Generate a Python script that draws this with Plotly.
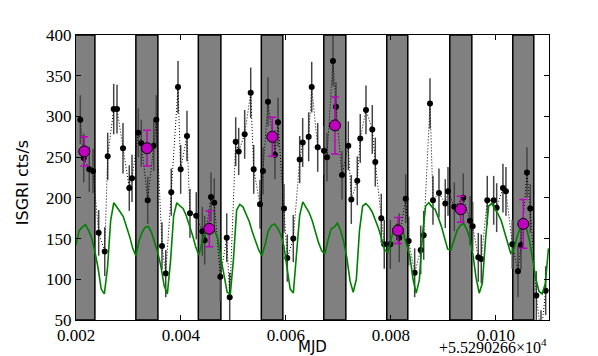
import numpy as np
import plotly.graph_objects as go

# Offset on the time axis: MJD = 55290.266 + t
offset_text = "+5.5290266×10<sup>4</sup>"

# Shaded (eclipse) intervals, t in days
band_start = [0.00195, 0.00314, 0.00433, 0.00553, 0.00672, 0.00792, 0.00912, 0.01032]
band_end = [0.00236, 0.00356, 0.00476, 0.00594, 0.00714, 0.00832, 0.00954, 0.01072]

# ISGRI light curve (black points)
t_lc = [0.002082, 0.002147, 0.002253, 0.002324, 0.002432, 0.002547, 0.002604, 0.002718,
        0.002781, 0.002895, 0.003015, 0.003067, 0.003187, 0.003244, 0.003366, 0.003480,
        0.003530, 0.003638, 0.003709, 0.003815, 0.003943, 0.003994, 0.004114, 0.004171,
        0.004291, 0.004406, 0.004451, 0.004571, 0.004634, 0.004749, 0.004871, 0.004928,
        0.005042, 0.005099, 0.005213, 0.005328, 0.005385, 0.005505, 0.005562, 0.005657,
        0.005790, 0.005848, 0.005962, 0.006025, 0.006139, 0.006261, 0.006318, 0.006432,
        0.006490, 0.006604, 0.006724, 0.006781, 0.006895, 0.006952, 0.007067, 0.007187,
        0.007244, 0.007358, 0.007415, 0.007524, 0.007644, 0.007701, 0.007815, 0.007872,
        0.007987, 0.008158, 0.008280, 0.008337, 0.008451, 0.008566, 0.008623, 0.008743,
        0.008800, 0.008914, 0.009034, 0.009086, 0.009206, 0.009377, 0.009505, 0.009556,
        0.009663, 0.009720, 0.009834, 0.009956, 0.010013, 0.010133, 0.010190, 0.010310,
        0.010419, 0.010476, 0.010590, 0.010653, 0.010768, 0.010857, 0.010947]
rate_lc = [296, 249, 235, 233, 157, 134, 251, 309,
           309, 261, 212, 224, 280, 267, 197, 264,
           296, 141, 107, 207, 336, 235, 276, 181,
           178, 159, 148, 201, 194, 103, 151, 78,
           269, 257, 278, 329, 235, 192, 233, 318,
           253, 293, 187, 126, 150, 247, 268, 275,
           336, 262, 258, 250, 368, 312, 228, 264,
           198, 221, 273, 308, 284, 244, 175, 143,
           143, 151, 199, 147, 108, 136, 154, 316,
           197, 206, 193, 208, 189, 200, 172, 165,
           127, 125, 197, 197, 188, 212, 208, 143,
           110, 142, 231, 187, 80, 32, 86]
err_lc = [30, 30, 28, 27, 28, 30, 29, 31,
          30, 31, 28, 29, 30, 29, 29, 31,
          30, 29, 29, 29, 32, 30, 31, 30,
          29, 30, 30, 30, 30, 30, 30, 30,
          30, 29, 30, 31, 30, 30, 29, 30,
          30, 30, 30, 29, 29, 29, 30, 30,
          31, 30, 30, 30, 31, 30, 30, 30,
          30, 30, 30, 30, 30, 30, 30, 30,
          30, 30, 30, 30, 30, 30, 30, 31,
          30, 30, 30, 30, 30, 30, 30, 30,
          30, 30, 30, 30, 30, 30, 30, 30,
          32, 30, 31, 30, 30, 30, 30]

# Folded / averaged points (magenta)
t_avg = [0.002158, 0.003352, 0.004539, 0.005739, 0.006933, 0.008133, 0.009328, 0.010520]
rate_avg = [257, 261, 162, 275, 289, 160, 186, 168]
err_avg = [18, 22, 22, 24, 35, 16, 16, 30]

# Template profile (green), sampled every 6e-5 d from t = 0.002
model_t0 = 0.002
model_dt = 0.00006
model_rate = [142, 160, 164, 167, 160, 150, 134, 114, 88, 82,
              114, 172, 194, 189, 183, 177, 166, 153, 138, 129,
              147, 158, 164, 165, 157, 145, 132, 115, 92, 82,
              122, 178, 194, 190, 187, 178, 167, 154, 140, 130,
              145, 158, 163, 164, 160, 150, 126, 103, 84, 82,
              125, 185, 192, 189, 181, 171, 158, 146, 136, 129,
              142, 159, 166, 168, 163, 155, 141, 114, 88, 83,
              130, 178, 195, 189, 182, 172, 158, 145, 135, 131,
              148, 162, 164, 169, 160, 146, 126, 98, 84, 100,
              160, 190, 193, 189, 183, 174, 163, 150, 136, 133,
              150, 163, 168, 165, 156, 143, 128, 100, 83, 99,
              155, 190, 194, 189, 186, 176, 165, 151, 137, 136,
              148, 160, 166, 169, 162, 150, 131, 102, 83, 95,
              148, 190, 193, 187, 180, 172, 158, 146, 132, 136,
              152, 163, 169, 163, 147, 124, 100, 85, 82, 95,
              138]
model_t = model_t0 + model_dt * np.arange(len(model_rate))

x_range = [0.002, 0.01101]
y_range = [50, 400]

fig = go.Figure()

# gray bands
for s, e in zip(band_start, band_end):
    fig.add_shape(type="rect", xref="x", yref="y", x0=s, x1=e, y0=y_range[0], y1=y_range[1],
                  fillcolor="#808080", line=dict(color="black", width=1.5), layer="below")

fig.add_trace(go.Scatter(
    x=t_lc, y=rate_lc, mode="lines+markers",
    line=dict(color="black", width=1, dash="1px,2px"),
    marker=dict(color="black", size=6),
    error_y=dict(type="data", array=err_lc, color="#444444", thickness=1.5, width=0),
    showlegend=False))

fig.add_trace(go.Scatter(
    x=model_t, y=model_rate, mode="lines",
    line=dict(color="#008000", width=1.6),
    showlegend=False))

fig.add_trace(go.Scatter(
    x=t_avg, y=rate_avg, mode="markers",
    marker=dict(color="#bf00bf", size=11, line=dict(color="black", width=1)),
    error_y=dict(type="data", array=err_avg, color="#bf00bf", thickness=1.5, width=4),
    showlegend=False))

serif = "Liberation Serif"
tick_font = dict(family=serif, size=17, color="black")

fig.update_xaxes(range=x_range, tickvals=[0.002, 0.004, 0.006, 0.008, 0.010],
                 ticktext=["0.002", "0.004", "0.006", "0.008", "0.010"],
                 ticks="inside", ticklen=5, tickcolor="black", showline=True, linecolor="black",
                 linewidth=1, mirror="ticks", showgrid=False, zeroline=False, tickfont=tick_font,
                 automargin=False)
fig.update_yaxes(range=y_range, tickvals=list(range(50, 401, 50)),
                 ticks="inside", ticklen=5, tickcolor="black", showline=True, linecolor="black",
                 linewidth=1, mirror="ticks", showgrid=False, zeroline=False, tickfont=tick_font,
                 automargin=False)

fig.add_annotation(text="ISGRI cts/s", xref="paper", yref="paper", x=0, y=0.48,
                   xanchor="center", yanchor="middle", xshift=-54, textangle=-90,
                   showarrow=False, font=dict(family="DejaVu Sans", size=16, color="black"))
fig.add_annotation(text="MJD", xref="paper", yref="paper", x=0.5, y=0, yshift=-27,
                   yanchor="middle", showarrow=False,
                   font=dict(family="DejaVu Sans", size=15, color="black"))
fig.add_annotation(text=offset_text, xref="paper", yref="paper", x=1, y=0, yshift=-26,
                   xanchor="right", yanchor="middle", showarrow=False,
                   font=dict(family=serif, size=16, color="black"))

fig.update_layout(width=598, height=356, margin=dict(l=76, r=49, t=35, b=36),
                  plot_bgcolor="white", paper_bgcolor="white")

# page body margin off so the figure sits at the window corner
fig.write_html("out.html", config={"displayModeBar": False},
               post_script="document.body.style.margin='0';")
